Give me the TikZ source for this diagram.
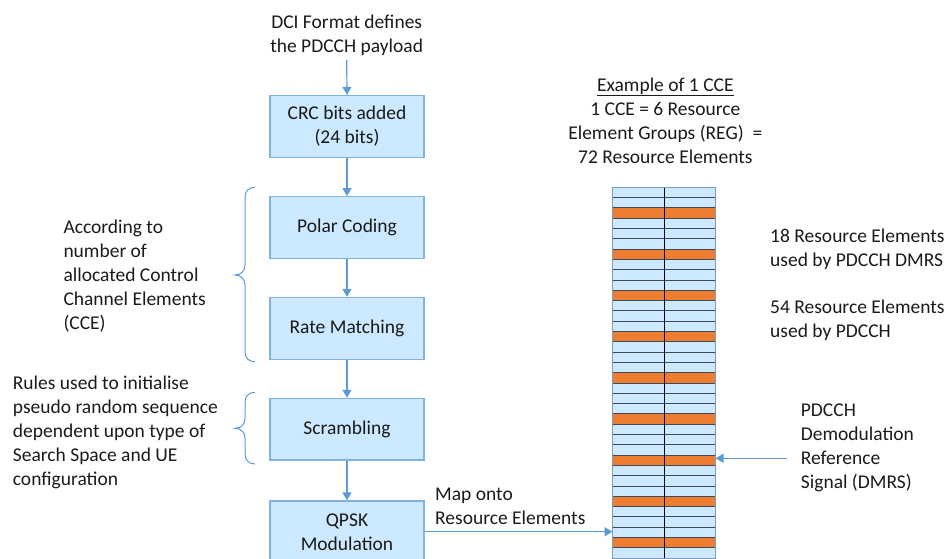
\documentclass[tikz,border=0pt]{standalone}
\usepackage{fontspec}
\setmainfont{Carlito}
\usetikzlibrary{arrows.meta}
\definecolor{boxfill}{HTML}{CCE9FF}
\definecolor{boxline}{HTML}{7FB3E3}
\definecolor{flow}{HTML}{5B9BD5}
\definecolor{dmrs}{HTML}{ED7D31}
\definecolor{regline}{HTML}{3E4A56}
\definecolor{gridedge}{HTML}{7F9DBD}
\definecolor{ink}{HTML}{1A1A1A}

\begin{document}
\begin{tikzpicture}[x=1pt,y=-1pt,
  font=\fontsize{19.5}{24}\selectfont, text=ink,
  stage/.style={draw=boxline, line width=1.2pt, fill=boxfill,
    minimum width=154pt, minimum height=61.7pt, align=center, inner sep=0pt},
  note/.style={align=left, inner sep=0pt},
  centred/.style={align=center, inner sep=0pt},
  flowarrow/.style={draw=flow, line width=1.2pt, -{Triangle[width=9pt,length=8pt]}},
  brace/.style={draw=flow, line width=1pt}]

\useasboundingbox (0,0) rectangle (949,558);
\clip (0,0) rectangle (949,558);

% processing chain
\node[centred] (dci) at (346.7,35.3) {DCI Format defines\\the PDCCH payload};
\node[stage] (crc)   at (347,126.3) {CRC bits added\\(24 bits)};
\node[stage] (polar) at (347,227.5) {Polar Coding};
\node[stage] (rate)  at (347,328.3) {Rate Matching};
\node[stage] (scr)   at (347,429.2) {Scrambling};
\node[stage] (qpsk)  at (347,531.8) {QPSK\\Modulation};

\draw[flowarrow] (dci.south) ++(0,4) -- (crc.north);
\draw[flowarrow] (crc.south) -- (polar.north);
\draw[flowarrow] (polar.south) -- (rate.north);
\draw[flowarrow] (rate.south) -- (scr.north);
\draw[flowarrow] (scr.south) -- (qpsk.north);

% braces with their notes
\draw[brace] (255,187.3) .. controls (249,187.3) and (245,191) .. (245,197)
  -- (245,265) .. controls (245,271) and (241,275) .. (235,275)
  .. controls (241,275) and (245,279) .. (245,285)
  -- (245,352) .. controls (245,358) and (249,361.7) .. (255,361.7);
\draw[brace] (255,392.3) .. controls (249,392.3) and (245,396) .. (245,402)
  -- (245,418.3) .. controls (245,424.3) and (241,428.3) .. (235,428.3)
  .. controls (241,428.3) and (245,432.3) .. (245,438.3)
  -- (245,454) .. controls (245,460) and (249,464) .. (255,464);

\node[note, anchor=west] (cce-note) at (63.3,275.7)
  {According to\\number of\\allocated Control\\Channel Elements\\(CCE)};
\node[note, anchor=west] (scr-note) at (12.7,432)
  {Rules used to initialise\\pseudo random sequence\\dependent upon type of\\Search Space and UE\\configuration};

% one CCE: 36 rows of 2 resource elements
\node[centred] (cce-title) at (665.3,120.4)
  {\underline{Example of 1 CCE}\\1 CCE = 6 Resource\\Element Groups (REG)~ =\\72 Resource Elements};
\node[minimum width=102.6pt, minimum height=370.8pt, inner sep=0pt] (cce) at (664,372.7) {};
\fill[boxfill] (cce.north west) rectangle (cce.south east);
\foreach \i in {2,6,...,34}
  \fill[dmrs] (612.7,{187.3+\i*10.3}) rectangle ++(102.6,10.3);
\foreach \i in {1,...,35}
  \draw[regline, line width=1pt] (612.7,{187.3+\i*10.3}) -- ++(102.6,0);
\draw[black, line width=1pt] (cce.north) -- (cce.south);
\draw[gridedge, line width=1.2pt] (cce.north west) rectangle (cce.south east);

\node[note, anchor=west] (dmrs-count) at (770,249.5)
  {18 Resource Elements\\used by PDCCH DMRS};
\node[note, anchor=west] (pdcch-count) at (770,320.5)
  {54 Resource Elements\\used by PDCCH};
\node[note, anchor=west] (dmrs-label) at (800.7,447.5)
  {PDCCH\\Demodulation\\Reference\\Signal (DMRS)};
\coordinate (dmrs-tail) at (786.7,458.3);
\draw[flowarrow] (dmrs-tail) -- (dmrs-tail -| cce.east);

\node[note, anchor=west] (map-note) at (435,506.3)
  {Map onto\\Resource Elements};
\draw[flowarrow] (qpsk.east |- 0,531.7) -- (cce.west |- 0,531.7);
\end{tikzpicture}
\end{document}
